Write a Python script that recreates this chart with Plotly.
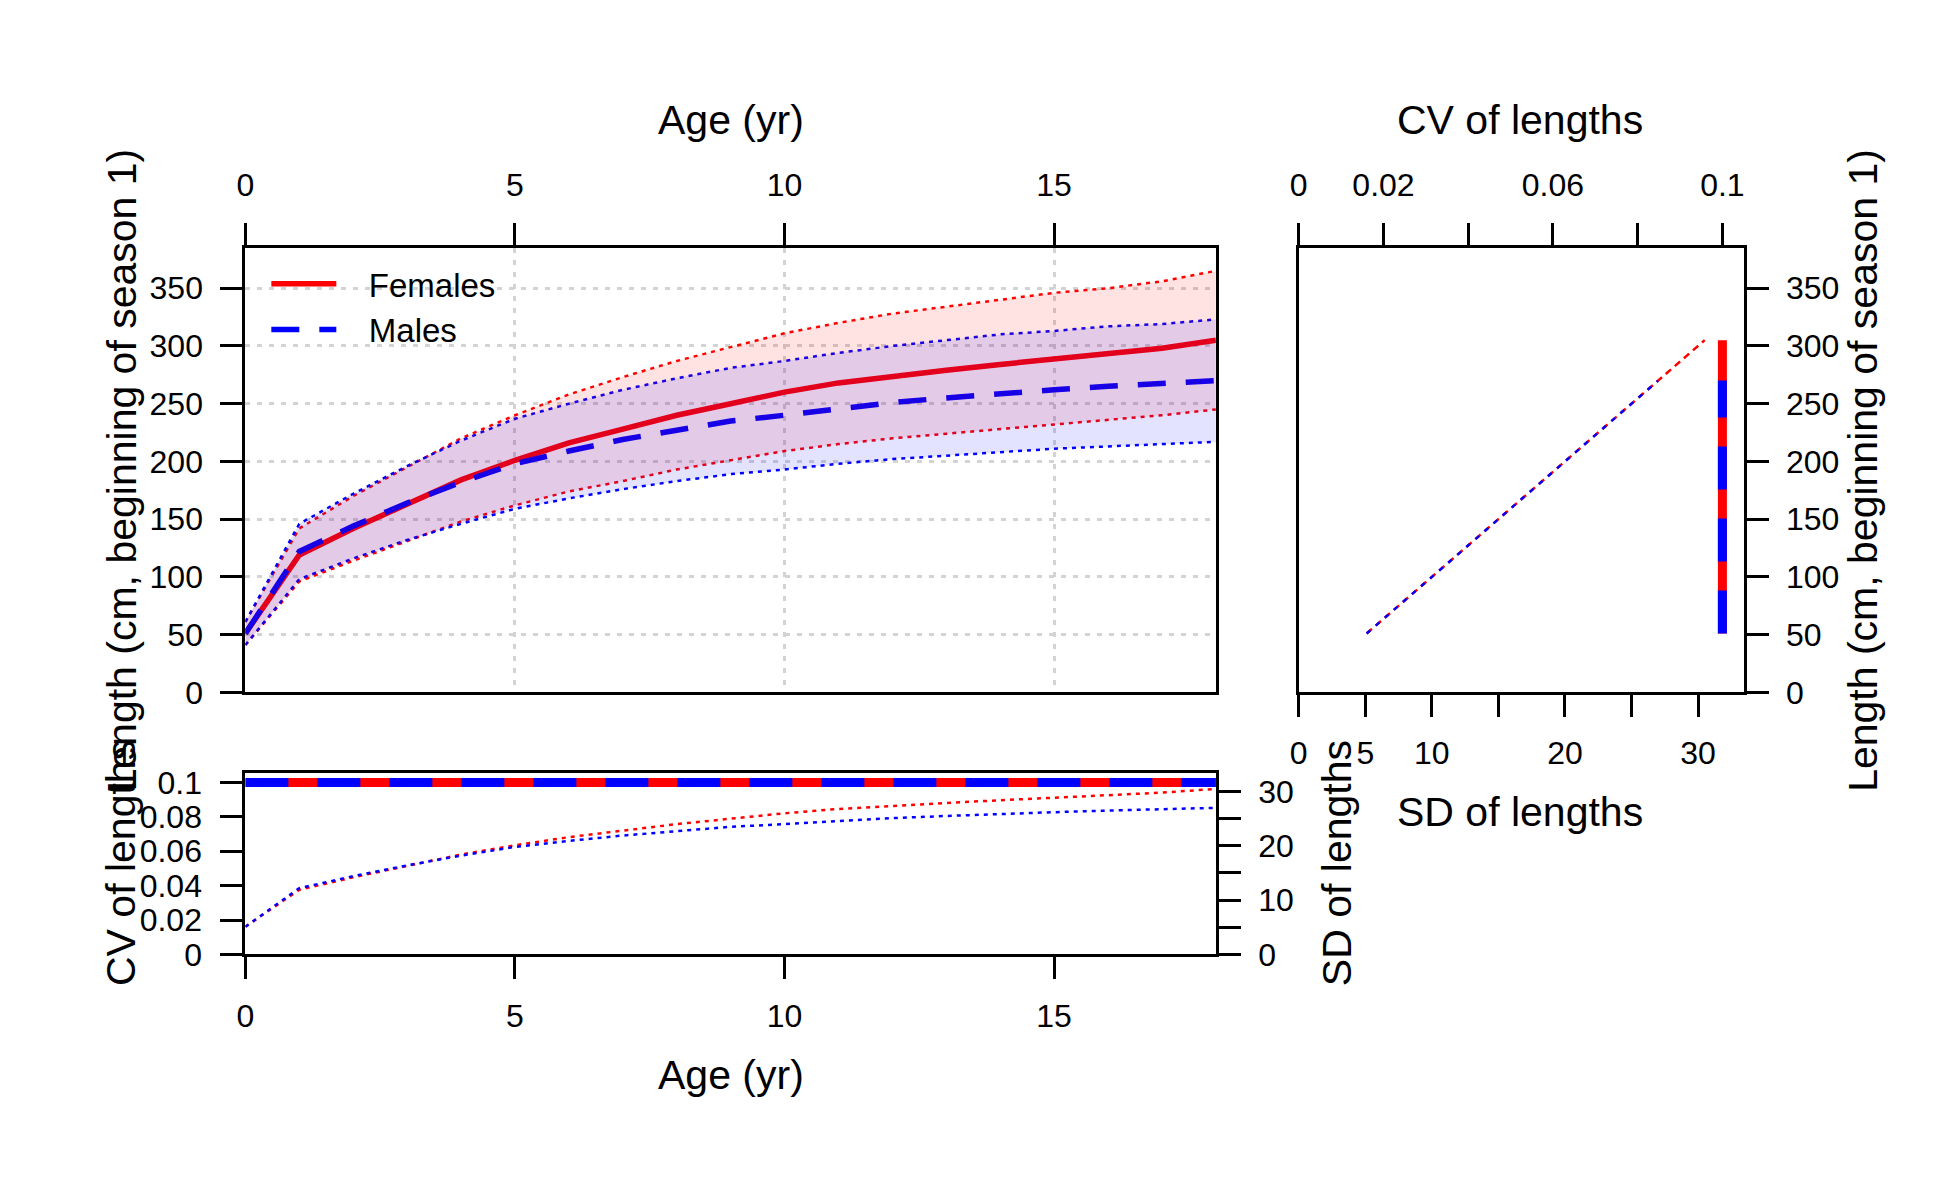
"""Length-at-age by sex, with CV and SD of length panels."""

import plotly.graph_objects as go

FONT = "Liberation Sans, Arial, sans-serif"
RED = "#FF0000"
BLUE = "#0000FF"
BODY_MARGIN = 8  # default <body> margin around the plot div
# keep the page a little smaller than the 1950x1200 window so nothing scrolls
W, H = 1920, 1160
# page -> screenshot calibration, measured from earlier renders
SX, OX = 0.9963, 8.33
SY, OY = 0.9813, 4.48
NBSP = "\u00a0"

# ---- data ------------------------------------------------------------------
ages = [0, 1, 2, 3, 4, 5, 6, 7, 8, 9, 10, 11, 12, 13, 14, 15, 16, 17, 18]

len_f = [51, 119, 142, 163, 184, 201, 216, 228, 240, 250, 260, 268, 274, 279,
         284, 289, 293, 298, 305]
len_m = [51, 122, 144, 164, 182, 198, 209, 219, 227, 235, 240, 246, 251, 255,
         259, 262, 265, 267, 270]

upper_f = [61, 142, 170, 195, 220, 240, 258, 273, 287, 299, 311, 320, 328,
           334, 340, 346, 350, 356, 365]
lower_f = [41, 96, 114, 131, 148, 162, 174, 183, 193, 201, 209, 215, 220, 224,
           228, 232, 236, 240, 245]
upper_m = [61, 146, 172, 196, 218, 237, 250, 262, 272, 281, 287, 294, 300,
           305, 310, 313, 317, 319, 323]
lower_m = [41, 98, 116, 132, 146, 159, 168, 176, 183, 189, 193, 198, 202, 205,
           208, 211, 213, 215, 217]

sd_f = [5.1, 11.9, 14.2, 16.3, 18.4, 20.1, 21.6, 22.8, 24.0, 25.0, 26.0, 26.8,
        27.4, 27.9, 28.4, 28.9, 29.3, 29.8, 30.5]
sd_m = [5.1, 12.2, 14.4, 16.4, 18.2, 19.8, 20.9, 21.9, 22.7, 23.5, 24.0, 24.6,
        25.1, 25.5, 25.9, 26.2, 26.5, 26.7, 27.0]

cv_f = [0.1, 0.1, 0.1, 0.1, 0.1, 0.1, 0.1, 0.1, 0.1, 0.1, 0.1, 0.1, 0.1, 0.1,
        0.1, 0.1, 0.1, 0.1, 0.1]
cv_m = [0.1, 0.1, 0.1, 0.1, 0.1, 0.1, 0.1, 0.1, 0.1, 0.1, 0.1, 0.1, 0.1, 0.1,
        0.1, 0.1, 0.1, 0.1, 0.1]

length_ticks = [0, 50, 100, 150, 200, 250, 300, 350]
age_ticks = [0, 5, 10, 15]
cv_ticks = [0, 0.02, 0.04, 0.06, 0.08, 0.1]
sd_ticks = [0, 5, 10, 15, 20, 25, 30]


def px_x(t):
    """Target screenshot column -> paper x."""
    page = (t - OX) / SX
    return (page - BODY_MARGIN) / W


def px_y(t):
    """Target screenshot row -> paper y."""
    page = (t - OY) / SY
    return 1 - (page - BODY_MARGIN) / H


def axis_style(**kw):
    style = dict(
        showline=True, linecolor="black", linewidth=3, mirror=True,
        ticks="outside", ticklen=22, tickwidth=3, tickcolor="black",
        tickfont=dict(family=FONT, size=32, color="black"),
        zeroline=False, showgrid=False,
    )
    style.update(kw)
    return style


def line(x, y, color, width, dash="solid", xaxis="x", yaxis="y", name=None):
    return go.Scatter(
        x=x, y=y, mode="lines", name=name, showlegend=name is not None,
        line=dict(color=color, width=width, dash=dash),
        xaxis=xaxis, yaxis=yaxis, hoverinfo="skip",
    )


fig = go.Figure()

# main panel: mean length with interval bounds
fig.add_trace(line(ages, len_f, RED, 5.5, name=NBSP * 3 + "Females"))
fig.add_trace(line(ages, len_m, BLUE, 5.5, dash="28px,20px",
                   name=NBSP * 3 + "Males"))
for y, col in [(upper_f, RED), (lower_f, RED), (upper_m, BLUE), (lower_m, BLUE)]:
    fig.add_trace(line(ages, y, col, 2.5, dash="4px,5px"))
for up, lo, fillc in [(upper_f, lower_f, "rgba(255,0,0,0.11)"),
                      (upper_m, lower_m, "rgba(0,0,255,0.11)")]:
    fig.add_trace(go.Scatter(
        x=ages + ages[::-1], y=up + lo[::-1], mode="lines", fill="toself",
        fillcolor=fillc, line=dict(width=0), showlegend=False, hoverinfo="skip",
    ))

# lower panel: CV (left axis) and SD (right axis) by age
fig.add_trace(line(ages, cv_f, RED, 9, xaxis="x2", yaxis="y2"))
fig.add_trace(line(ages, cv_m, BLUE, 9, dash="43px,29px", xaxis="x2", yaxis="y2"))
fig.add_trace(line(ages, sd_f, RED, 2.5, dash="4px,5px", xaxis="x2", yaxis="y3"))
fig.add_trace(line(ages, sd_m, BLUE, 2.5, dash="4px,5px", xaxis="x2", yaxis="y3"))

# right panel: SD (bottom axis) and CV (top axis) against length
fig.add_trace(line(sd_f, len_f, RED, 2.5, dash="7px,5px", xaxis="x4", yaxis="y4"))
fig.add_trace(line(sd_m, len_m, BLUE, 2.5, dash="5px,7px", xaxis="x4", yaxis="y4"))
fig.add_trace(line(cv_f, len_f, RED, 9, xaxis="x5", yaxis="y4"))
fig.add_trace(line(cv_m, len_m, BLUE, 9, dash="43px,29px", xaxis="x5", yaxis="y4"))

main_x = [px_x(245), px_x(1217)]
right_x = [px_x(1300), px_x(1745.5)]
top_y = [px_y(691.3), px_y(245)]
low_y = [px_y(954.3), px_y(772.3)]

grid = dict(showgrid=True, gridcolor="#D3D3D3", gridwidth=3, griddash="5px,7px")

fig.update_layout(
    width=W, height=H, margin=dict(l=0, r=0, t=0, b=0),
    paper_bgcolor="white", plot_bgcolor="white",
    font=dict(family=FONT, color="black"),
    xaxis=axis_style(domain=main_x, anchor="y", side="top", range=[0, 18],
                     tickvals=age_ticks, ticklabelstandoff=14, **grid),
    yaxis=axis_style(domain=top_y, anchor="x", range=[0, 385],
                     tickvals=length_ticks, ticklabelstandoff=11, **grid),
    xaxis2=axis_style(domain=main_x, anchor="y2", range=[0, 18],
                      tickvals=age_ticks, ticklabelstandoff=9),
    yaxis2=axis_style(domain=low_y, anchor="x2", range=[0, 0.1054],
                      tickvals=cv_ticks,
                      ticktext=["0", "0.02", "0.04", "0.06", "0.08", "0.1"],
                      ticklabelstandoff=12),
    yaxis3=axis_style(overlaying="y2", anchor="x2", side="right", mirror=False,
                      range=[0, 33.4], tickvals=sd_ticks,
                      ticktext=["0", "", "10", "", "20", "", "30"],
                      ticklabelstandoff=11),
    xaxis4=axis_style(domain=right_x, anchor="y4", range=[0, 33.42],
                      tickvals=sd_ticks,
                      ticktext=["0", "5", "10", "", "20", "", "30"],
                      ticklabelstandoff=8),
    xaxis5=axis_style(overlaying="x4", anchor="y4", side="top", mirror=False,
                      range=[0, 0.105], tickvals=cv_ticks,
                      ticktext=["0", "0.02", "", "0.06", "", "0.1"],
                      ticklabelstandoff=14),
    yaxis4=axis_style(domain=top_y, anchor="x4", side="right", range=[0, 385],
                      tickvals=length_ticks, ticklabelstandoff=11),
    legend=dict(
        x=px_x(266), y=px_y(253), xanchor="left", yanchor="top",
        bgcolor="rgba(0,0,0,0)", font=dict(family=FONT, size=33, color="black"),
        tracegroupgap=0, itemwidth=65,
    ),
)

title_font = dict(family=FONT, size=41, color="black")
titles = [
    ("Age (yr)", 731, 117, 0),
    ("CV of lengths", 1522, 117, 0),
    ("SD of lengths", 1522, 811, 0),
    ("Age (yr)", 731, 1075, 0),
    ("Length (cm, beginning of season 1)", 121, 468, -90),
    ("CV of lengths", 121, 863, -90),
    ("Length (cm, beginning of season 1)", 1865, 468, -90),
    ("SD of lengths", 1339, 863, -90),
]
for text, x, y, angle in titles:
    fig.add_annotation(
        text=text, x=px_x(x), y=px_y(y), xref="paper", yref="paper",
        xanchor="center", yanchor="middle", showarrow=False,
        textangle=angle, font=title_font,
    )

fig.write_html("out.html")
